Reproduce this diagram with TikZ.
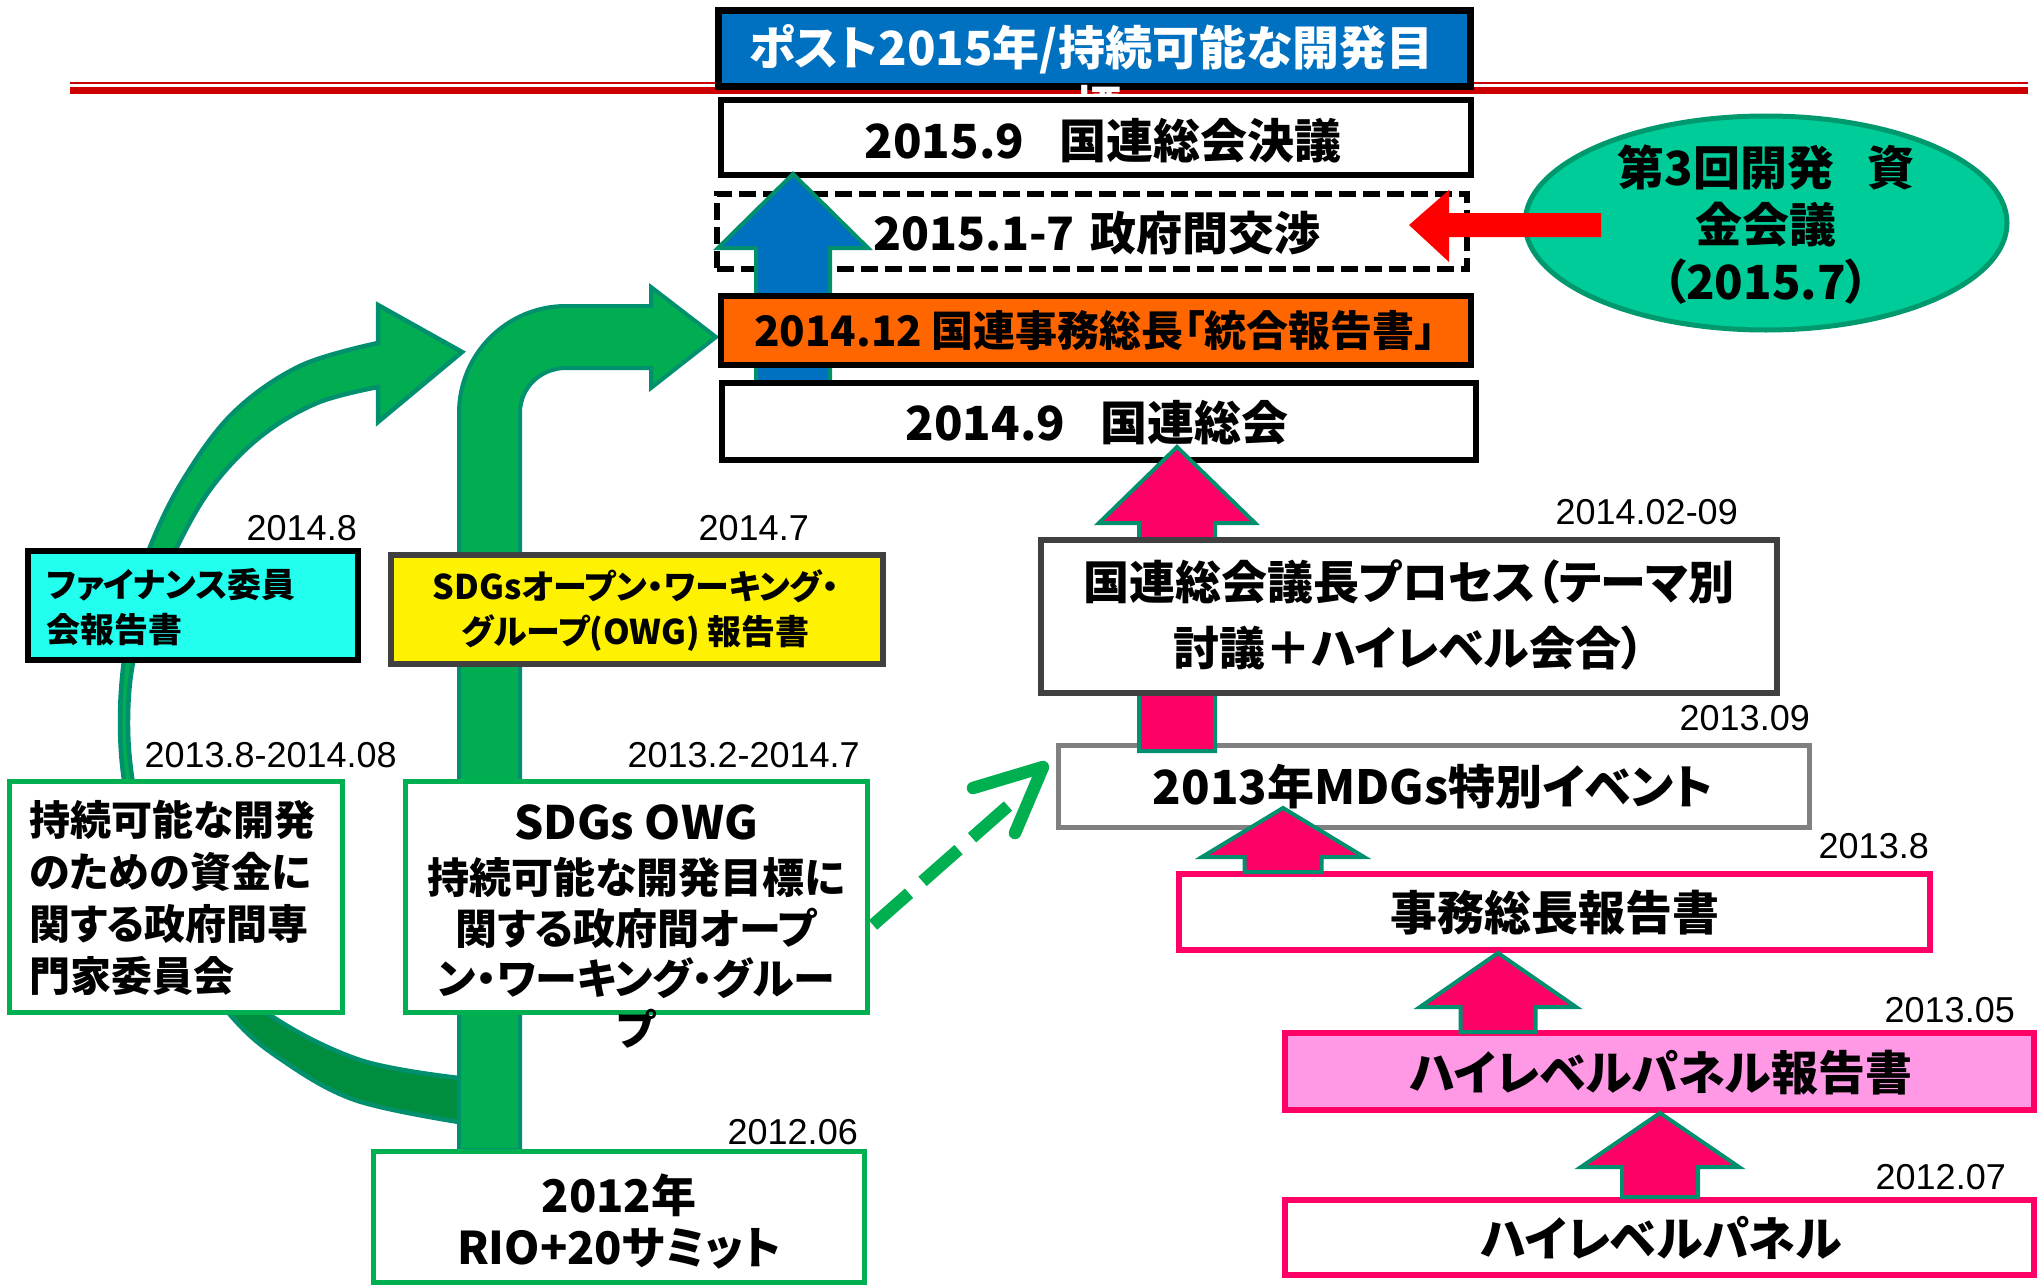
\documentclass[tikz,border=0pt]{standalone}
\usepackage{fontspec}
\newfontfamily\jp{Noto Sans CJK JP}[RawFeature={+palt}, BoldFont={Noto Sans CJK JP Black}]
\newfontfamily\lab{Liberation Sans}
\usetikzlibrary{calc,shapes.geometric}
\definecolor{tblue}{HTML}{0070C0}
\definecolor{redline}{HTML}{CC0000}
\definecolor{gbox}{HTML}{00B050}
\definecolor{garrow}{HTML}{00AD50}
\definecolor{gdark}{HTML}{008E3E}
\definecolor{tealo}{HTML}{00906E}
\definecolor{pinkA}{HTML}{FF0066}
\definecolor{pinkF}{HTML}{FF99E6}
\definecolor{cyanF}{HTML}{22FFEE}
\definecolor{orangeF}{HTML}{FF6600}
\definecolor{ellF}{HTML}{00CC99}
\definecolor{ellD}{HTML}{00996E}
\definecolor{dgray}{HTML}{404040}
\definecolor{mgray}{HTML}{808080}
\newcommand\fsz[2]{\fontsize{#1}{#2}\selectfont}
% #1 fill, #2 x, #3 ybottom, #4 ytip, #5 shaft half, #6 head half, #7 head length
\newcommand\blkup[7]{%
  \filldraw[fill=#1, draw=tealo, line width=4, line join=miter]
    ({#2-#5},#3) -- ({#2-#5},{#4+#7}) -- ({#2-#6},{#4+#7}) -- (#2,#4)
    -- ({#2+#6},{#4+#7}) -- ({#2+#5},{#4+#7}) -- ({#2+#5},#3) -- cycle;}
\begin{document}
\begin{tikzpicture}[x=1pt,y=-1pt,
  txt/.style={inner sep=0pt, text=black},
  jb/.style={font=\jp\bfseries\fsz{#1}{#1}},
  jbm/.style n args={2}{font=\jp\bfseries\fsz{#1}{#2}},
  datel/.style={inner sep=0pt, anchor=east, font=\lab\fsz{36}{40}},
  box/.style={inner sep=0pt, line width=6, fill=white, draw=black}]
\useasboundingbox (0,0) rectangle (2040,1287);

% red rule
\draw[redline, line width=2.5] (70,83) -- (2028,83);
\draw[redline, line width=7] (70,90.8) -- (2028,90.8);

% title
\node[box, line width=7, fill=tblue, minimum width=752, minimum height=76] (title) at (1094.5,48.5) {};
\node[txt, text=white, jb=47] (titlet) at (1091,49) {ポスト2015年/持続可能な開発目};
\node[txt, text=white, jb=47, anchor=north] (titlet2) at (1098,85) {標};

% curved green arrow: upper (bright) part
\filldraw[fill=garrow, draw=tealo, line width=4.5, line join=miter]
  plot[smooth, tension=0.6] coordinates {(156,900) (138,840) (124,780) (120,720) (124,660) (135,600) (150,547) (183,480) (233,413) (300,366) (378,343)}
  -- (378,305) -- (462,352) -- (378,422) -- (378,387)
  -- plot[smooth, tension=0.6] coordinates {(378,387) (317,403) (260,437) (212,487) (177,547) (150,610) (133,663) (128,720) (132,777) (145,840) (175,900)}
  -- cycle;
% lower (dark) part
\filldraw[fill=gdark, draw=tealo, line width=4.5, line join=miter]
  plot[smooth, tension=0.6] coordinates {(459,1122) (355,1100) (282,1060) (232,1017) (176,940) (156,900)}
  -- plot[smooth, tension=0.6] coordinates {(175,900) (215,962) (270,1015) (360,1060) (459,1078)}
  -- cycle;

% bent-up green arrow
\filldraw[fill=garrow, draw=tealo, line width=4, line join=miter]
  (459,1150) -- (459,413) .. controls (459,353.9) and (506.9,306) .. (566,306)
  -- (651,306) -- (651,287) -- (716,337) -- (651,388) -- (651,368) -- (566,368)
  .. controls (540.6,368) and (520,387.6) .. (520,413) -- (520,1150) -- cycle;

% left boxes
\node[box, fill=cyanF, minimum width=330, minimum height=109] (fin) at (193,605.5) {};
\node[txt, jbm={34}{45}, align=left, anchor=west] (fint) at (46,607.5) {ファイナンス委員\\会報告書};
\node[datel] (d1) at (357,528) {2014.8};

\node[box, draw=dgray, fill=yellow, minimum width=492, minimum height=109] (owgr) at (637,609.5) {};
\node[txt, jbm={34}{45}, align=center] (owgrt) at (636,610.5) {SDGsオープン・ワーキング・\\グループ(OWG) 報告書};
\node[datel] (d2) at (809,528) {2014.7};

\node[box, line width=5, draw=gbox, minimum width=333, minimum height=231] (icesdf) at (176,897) {};
\node[txt, jbm={41}{52}, align=left, anchor=west] (icesdft) at (29,898) {持続可能な開発\\のための資金に\\関する政府間専\\門家委員会};
\node[datel] (d3) at (397,755) {2013.8-2014.08};

\node[box, line width=5, draw=gbox, minimum width=462, minimum height=231] (owg) at (636.5,897) {};
\node[txt, jb=46] (owgt1) at (636,822) {SDGs OWG};
\node[txt, jbm={42}{50.5}, align=center] (owgt2) at (636,953) {持続可能な開発目標に\\関する政府間オープ\\ン・ワーキング・グルー\\プ};
\node[datel] (d4) at (860,755) {2013.2-2014.7};

\node[box, line width=5, draw=gbox, minimum width=491, minimum height=131] (rio) at (619,1217) {};
\node[txt, jbm={45}{52}, align=center] (riot) at (619,1221) {2012年\\RIO+20サミット};
\node[datel] (d5) at (858,1132) {2012.06};

% dashed green connector
\coordinate (dtail) at (873,925);
\coordinate (dend) at (1008,806);
\coordinate (dtip) at (1043,767);
\draw[gbox, line width=12.5, dash pattern=on 48 off 18] (dtail) -- (dend);
\draw[gbox, line width=12.5, line cap=round, line join=round] (973,788) -- (dtip) -- (1015,833);

% center column
\node[box, minimum width=750, minimum height=75] (res) at (1096,137.5) {};
\node[txt, jb=47] (rest) at (1103,141) {2015.9\hspace{0.75em}国連総会決議};

\node[box, dash pattern=on 17 off 7, minimum width=750, minimum height=75] (neg) at (1092,231.5) {};
\node[txt, jb=46] (negt) at (1097,233) {2015.1-7\hspace{0.35em}政府間交渉};

\blkup{tblue}{793}{387}{174}{37}{75}{74}

\node[box, fill=orangeF, minimum width=750, minimum height=69] (syn) at (1096,330.5) {};
\node[txt, jb=42] (synt) at (1095,331) {2014.12 国連事務総長「統合報告書」};

\node[box, minimum width=754, minimum height=77] (unga) at (1099,421.5) {};
\node[txt, jb=47] (ungat) at (1097,423) {2014.9\hspace{0.75em}国連総会};

% ellipse and red arrow
\node[ellipse, draw=ellD, fill=ellF, line width=5, minimum width=482, minimum height=214, inner sep=0] (ffd) at (1766,223) {};
\node[txt, jbm={47}{57}, align=center] (ffdt) at (1766,225) {第3回開発\hspace{0.7em}資\\金会議\\（2015.7）};
\fill[red] (1601,213) -- (1449,213) -- (1449,190) -- (1409,225) -- (1449,262) -- (1449,237) -- (1601,237) -- cycle;

% right column
\node[box, line width=5, draw=mgray, minimum width=751, minimum height=82] (mdg) at (1434,786.5) {};
\node[txt, jb=47] (mdgt) at (1433,787) {2013年MDGs特別イベント};
\node[datel] (d7) at (1810,718) {2013.09};

\blkup{pinkA}{1177}{751}{447}{38}{78}{76}

\node[box, draw=dgray, minimum width=736, minimum height=153] (pga) at (1409,616.5) {};
\node[txt, jbm={46}{66}, align=center] (pgat) at (1409,615) {国連総会議長プロセス（テーマ別\\討議＋ハイレベル会合）};
\node[datel] (d6) at (1738,512) {2014.02-09};

\node[box, draw=pinkA, minimum width=751, minimum height=76] (sgr) at (1554.5,912) {};
\node[txt, jb=47] (sgrt) at (1555,913) {事務総長報告書};
\node[datel] (d8) at (1929,846) {2013.8};
\blkup{pinkA}{1283}{872}{808}{38.5}{81}{49}

\node[box, draw=pinkA, fill=pinkF, minimum width=749, minimum height=77] (hlr) at (1659.5,1071.5) {};
\node[txt, jb=47] (hlrt) at (1661,1073) {ハイレベルパネル報告書};
\node[datel] (d9) at (2015,1010) {2013.05};
\blkup{pinkA}{1498}{1032}{953}{37.5}{78}{54}

\node[box, draw=pinkA, minimum width=749, minimum height=75] (hlp) at (1659.5,1237.5) {};
\node[txt, jb=47] (hlpt) at (1661,1238) {ハイレベルパネル};
\node[datel] (d10) at (2006,1177) {2012.07};
\blkup{pinkA}{1660}{1197}{1113}{38}{79}{54}

\end{tikzpicture}
\end{document}
